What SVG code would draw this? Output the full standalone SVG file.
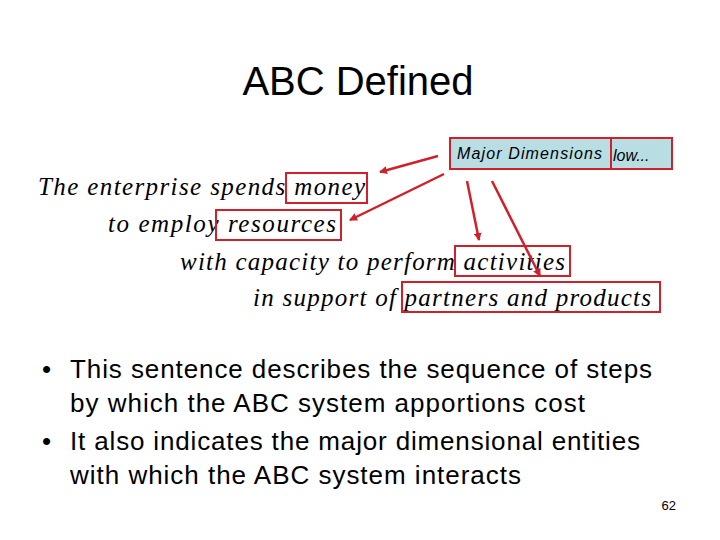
<svg xmlns="http://www.w3.org/2000/svg" width="720" height="540" viewBox="0 0 720 540">
<style>
.s{font-family:"Liberation Serif",serif;font-style:italic;font-size:25px;fill:#000}
.b{font-family:"Liberation Sans",Arial,sans-serif;font-size:26px;fill:#000}
.r{fill:none;stroke:#d0202a;stroke-width:2}
.c{stroke:#d0202a;stroke-width:2.5;marker-end:url(#a)}
</style>
<defs><marker id="a" markerWidth="8" markerHeight="8" refX="7" refY="4" orient="auto" markerUnits="userSpaceOnUse"><path d="M0,0L8,4L0,8z" fill="#d0202a"/></marker></defs>
<rect width="720" height="540" fill="#fff"/>
<text x="358" y="95" text-anchor="middle" font-family="Liberation Sans,Arial,sans-serif" font-size="40">ABC Defined</text>
<g id="label">
<rect x="450" y="138" width="222" height="31" fill="#b8dde3" stroke="#d0202a" stroke-width="2"/>
<line x1="611" y1="138" x2="611" y2="169" stroke="#d0202a" stroke-width="2"/>
<text x="457" y="159" font-family="Liberation Sans,Arial,sans-serif" font-style="italic" font-size="16" textLength="145">Major Dimensions</text>
<text x="613" y="161" font-family="Liberation Sans,Arial,sans-serif" font-style="italic" font-size="16">low...</text>
</g>
<g id="sentence">
<text class="s" x="38" y="195" textLength="327">The enterprise spends money</text>
<text class="s" x="108" y="232" textLength="228">to employ resources</text>
<text class="s" x="180" y="270" textLength="385">with capacity to perform activities</text>
<text class="s" x="253" y="306" textLength="398">in support of partners and products</text>
</g>
<g id="money"><rect class="r" x="286" y="173" width="81" height="30"/></g>
<g id="resources"><rect class="r" x="216" y="210" width="125" height="30"/></g>
<g id="activities"><rect class="r" x="455" y="246" width="115" height="30"/></g>
<g id="partners"><rect class="r" x="402" y="282" width="258" height="30"/></g>
<g id="connectors">
<line class="c" x1="438" y1="156" x2="380" y2="172"/>
<line class="c" x1="444" y1="174" x2="350" y2="220"/>
<line class="c" x1="467" y1="181" x2="479" y2="240"/>
<line class="c" x1="492" y1="181" x2="540" y2="276"/>
</g>
<g id="bullets">
<text class="b" x="42" y="378">•</text>
<text class="b" x="70" y="378" textLength="582">This sentence describes the sequence of steps</text>
<text class="b" x="70" y="412" textLength="515">by which the ABC system apportions cost</text>
<text class="b" x="42" y="450">•</text>
<text class="b" x="70" y="450" textLength="570">It also indicates the major dimensional entities</text>
<text class="b" x="70" y="484" textLength="451">with which the ABC system interacts</text>
</g>
<text x="676" y="510" text-anchor="end" font-family="Liberation Sans,Arial,sans-serif" font-size="13">62</text>
</svg>
